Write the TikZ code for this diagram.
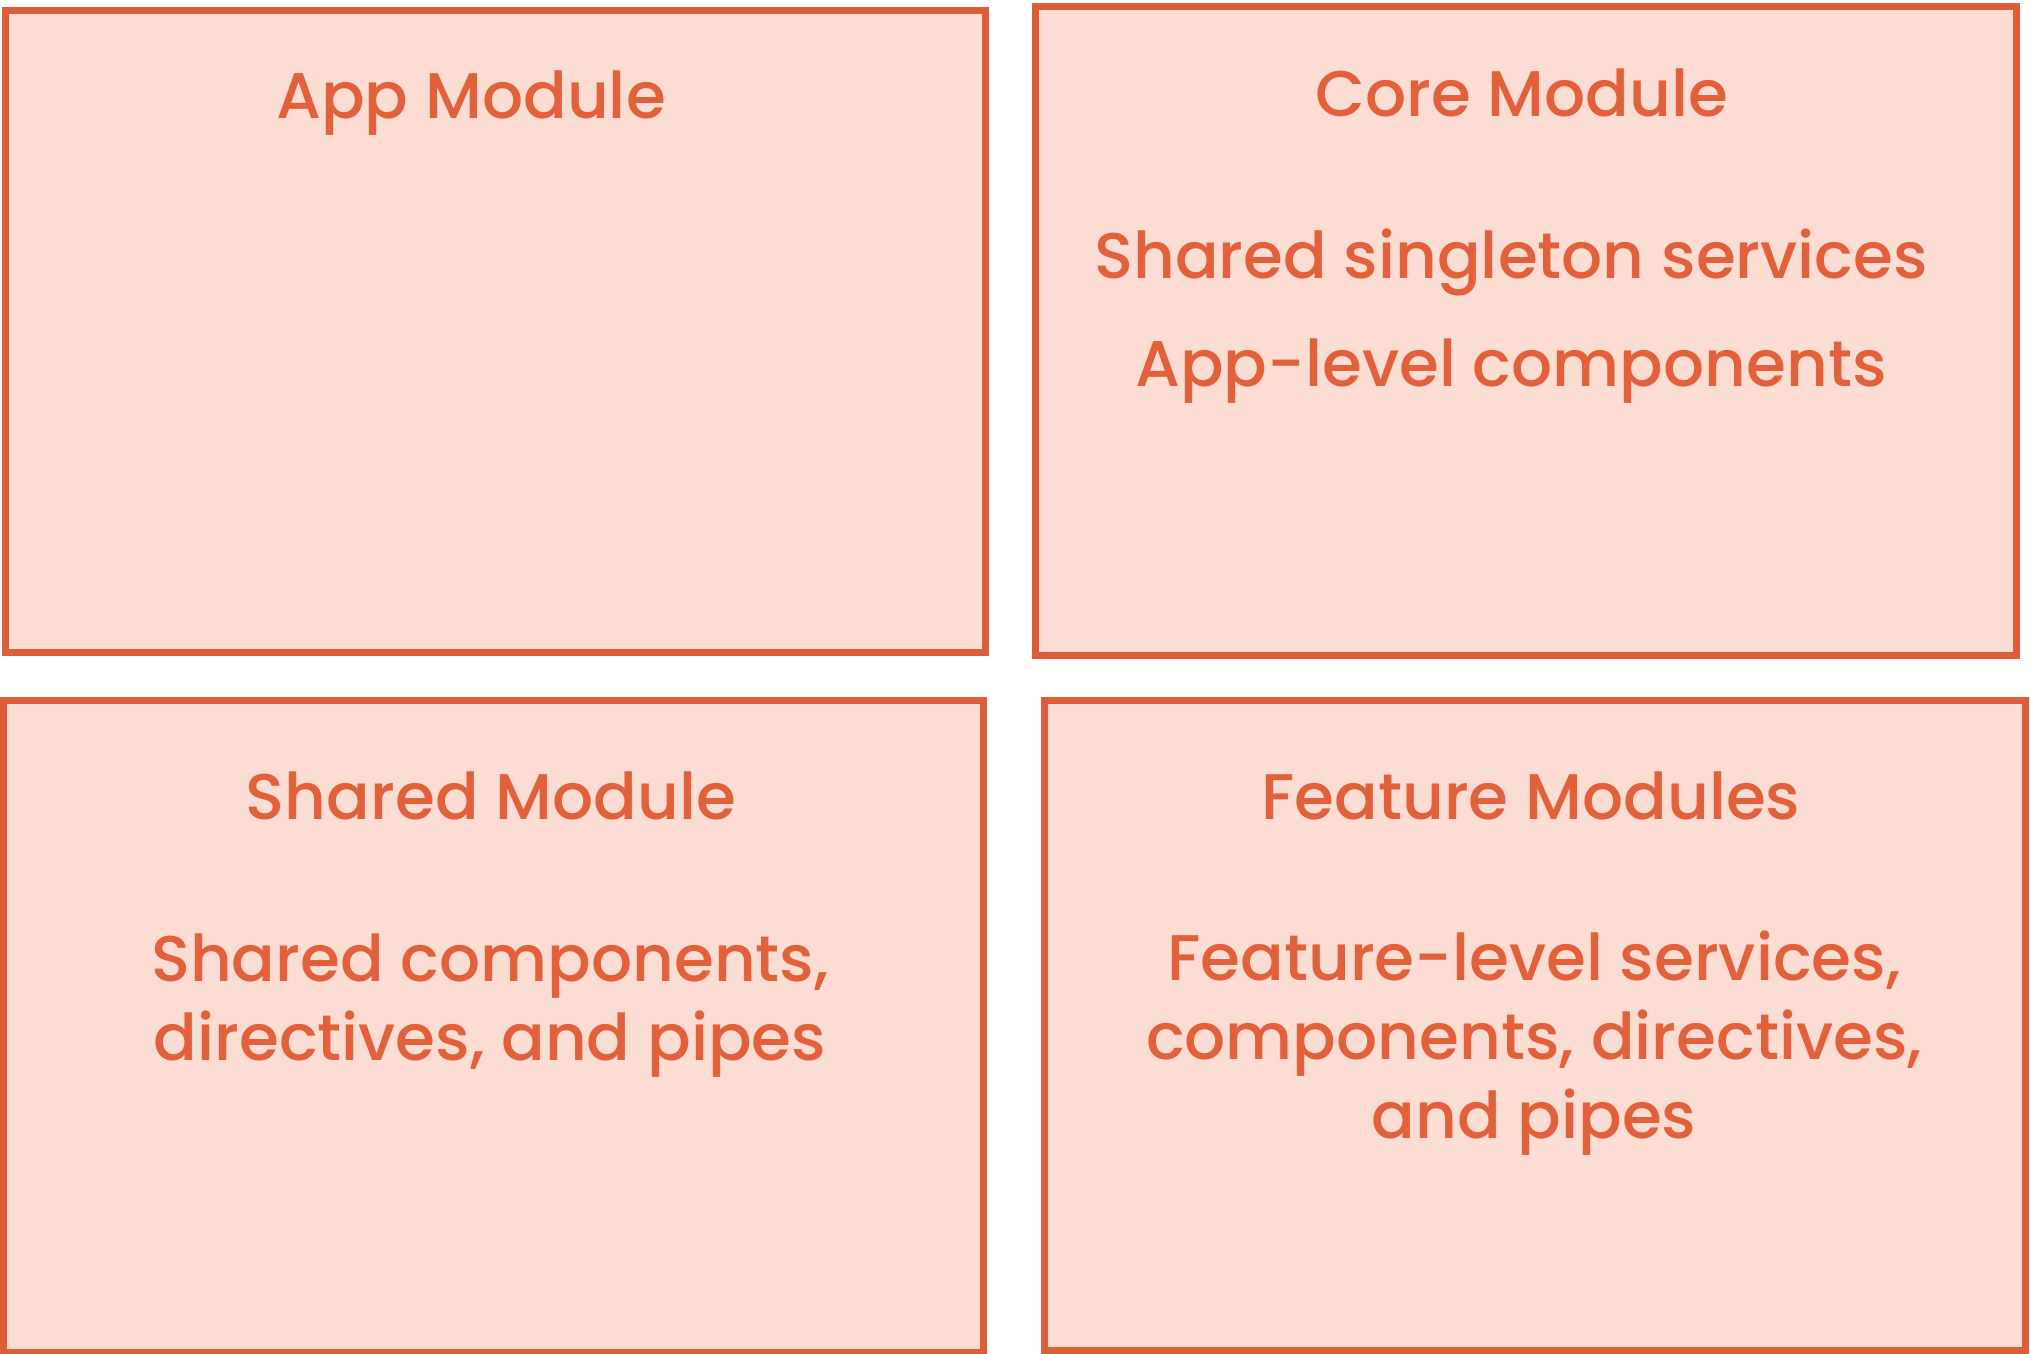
\documentclass[tikz,border=0pt]{standalone}
\usepackage{fontspec}
\setmainfont{Poppins}[UprightFont={* Medium}]
\definecolor{modline}{RGB}{222,93,57}
\definecolor{modfill}{RGB}{252,221,212}
\definecolor{modtext}{RGB}{226,96,58}
\begin{document}
\begin{tikzpicture}[x=1pt, y=-1pt,
    modbox/.style={draw=modline, fill=modfill, line width=7pt, rectangle, inner sep=0pt},
    modlabel/.style={text=modtext, anchor=base, align=center, inner sep=0pt,
      font=\fontsize{64.5}{79}\selectfont}]
    \useasboundingbox (0,0) rectangle (2030,1354);
    % the four module boxes
    \node [modbox, minimum width=980pt, minimum height=641pt] (app) at (495,331.5) {};
    \node [modbox, minimum width=981pt, minimum height=648pt] (core) at (1525.5,331) {};
    \node [modbox, minimum width=980pt, minimum height=652pt] (shared) at (493,1026) {};
    \node [modbox, minimum width=981pt, minimum height=650pt] (feature) at (1534.5,1025) {};
    % titles
    \node [modlabel] (apptitle) at (471,118) {App Module};
    \node [modlabel] (coretitle) at (1522,117) {Core Module};
    \node [modlabel] (sharedtitle) at (491,819) {Shared Module};
    \node [modlabel] (featuretitle) at (1531,819) {Feature Modules};
    % contents (base anchor sits on the last line)
    \node [modlabel] (coretext) at (1511,386) {Shared singleton services\\[29pt] App-level components};
    \node [modlabel] (sharedtext) at (490,1060) {Shared components,\\ directives, and pipes};
    \node [modlabel] (featuretext) at (1534,1138) {Feature-level services,\\ components, directives,\\ and pipes};
  \end{tikzpicture}
\end{document}
